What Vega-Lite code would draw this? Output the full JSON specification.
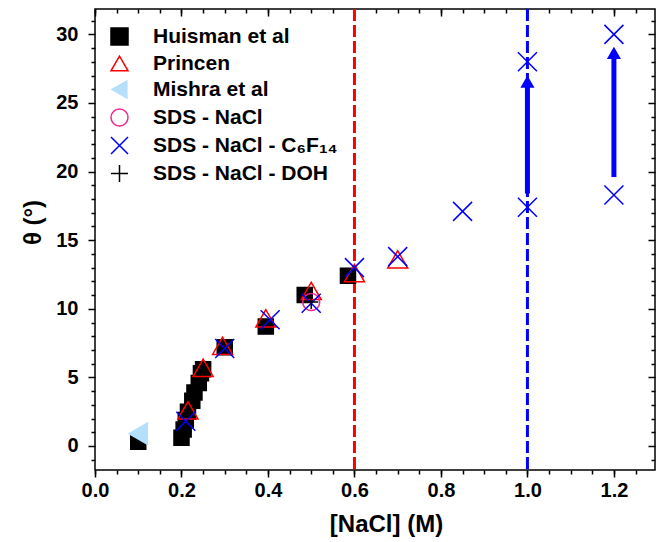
{
  "$schema": "https://vega.github.io/schema/vega-lite/v6.json",
  "width": 560,
  "height": 461,
  "autosize": {"type": "none"},
  "padding": {"left": 95, "top": 9, "right": 2, "bottom": 72},
  "background": "white",
  "config": {
    "view": {"stroke": "black", "strokeWidth": 1.5},
    "font": "Liberation Sans",
    "axis": {
      "domain": false,
      "grid": false,
      "labelFlush": false,
      "tickColor": "black",
      "tickWidth": 1.5,
      "labelColor": "black",
      "labelFont": "Liberation Sans",
      "labelFontWeight": "bold",
      "labelFontSize": 20,
      "titleFont": "Liberation Sans",
      "titleFontSize": 24,
      "titleFontWeight": "bold",
      "titleColor": "black"
    }
  },
  "resolve": {"axis": {"x": "independent", "y": "independent"}},
  "layer": [
    {
      "data": {"values": [
        {"x": 0.6, "c": "#FF0000"},
        {"x": 1.0, "c": "#0000FF"}
      ]},
      "mark": {"type": "rule", "strokeDash": [12, 4], "strokeWidth": 3},
      "encoding": {
        "x": {"field": "x", "type": "quantitative",
              "scale": {"domain": [0, 1.295], "nice": false, "zero": false},
              "axis": {"orient": "bottom", "values": [0,0.05,0.1,0.15,0.2,0.25,0.3,0.35,0.4,0.45,0.5,0.55,0.6,0.65,0.7,0.75,0.8,0.85,0.9,0.95,1.0,1.05,1.1,1.15,1.2,1.25], "labels": false, "tickSize": 4, "title": null}},
        "color": {"field": "c", "type": "nominal", "scale": null}
      }
    },
    {
      "data": {"values": [
        {"s": "Huisman et al", "x": 0.1, "y": 0.3},
        {"s": "Huisman et al", "x": 0.2, "y": 0.6},
        {"s": "Huisman et al", "x": 0.205, "y": 1.2},
        {"s": "Huisman et al", "x": 0.21, "y": 1.9},
        {"s": "Huisman et al", "x": 0.215, "y": 2.5},
        {"s": "Huisman et al", "x": 0.225, "y": 3.3},
        {"s": "Huisman et al", "x": 0.23, "y": 3.9},
        {"s": "Huisman et al", "x": 0.24, "y": 4.6},
        {"s": "Huisman et al", "x": 0.245, "y": 5.3},
        {"s": "Huisman et al", "x": 0.25, "y": 5.6},
        {"s": "Huisman et al", "x": 0.3, "y": 7.2},
        {"s": "Huisman et al", "x": 0.395, "y": 8.7},
        {"s": "Huisman et al", "x": 0.485, "y": 11.0},
        {"s": "Huisman et al", "x": 0.585, "y": 12.4},
        {"s": "Princen", "x": 0.215, "y": 2.6},
        {"s": "Princen", "x": 0.25, "y": 5.7},
        {"s": "Princen", "x": 0.295, "y": 7.3},
        {"s": "Princen", "x": 0.395, "y": 9.3},
        {"s": "Princen", "x": 0.5, "y": 11.3},
        {"s": "Princen", "x": 0.6, "y": 12.6},
        {"s": "Princen", "x": 0.7, "y": 13.6},
        {"s": "Mishra et al", "x": 0.1, "y": 0.9},
        {"s": "SDS - NaCl", "x": 0.5, "y": 10.5},
        {"s": "SDS - NaCl - C₆F₁₄", "x": 0.21, "y": 1.8},
        {"s": "SDS - NaCl - C₆F₁₄", "x": 0.3, "y": 7.1},
        {"s": "SDS - NaCl - C₆F₁₄", "x": 0.405, "y": 9.2},
        {"s": "SDS - NaCl - C₆F₁₄", "x": 0.5, "y": 10.4},
        {"s": "SDS - NaCl - C₆F₁₄", "x": 0.6, "y": 13.0},
        {"s": "SDS - NaCl - C₆F₁₄", "x": 0.7, "y": 13.8},
        {"s": "SDS - NaCl - C₆F₁₄", "x": 0.85, "y": 17.1},
        {"s": "SDS - NaCl - C₆F₁₄", "x": 1.0, "y": 17.4},
        {"s": "SDS - NaCl - C₆F₁₄", "x": 1.0, "y": 28.0},
        {"s": "SDS - NaCl - C₆F₁₄", "x": 1.2, "y": 18.3},
        {"s": "SDS - NaCl - C₆F₁₄", "x": 1.2, "y": 30.0},
        {"s": "SDS - NaCl - DOH", "x": 0.5, "y": 10.5}
      ]},
      "mark": {"type": "point", "strokeWidth": 1.5, "opacity": 1},
      "encoding": {
        "x": {"field": "x", "type": "quantitative",
              "scale": {"domain": [0, 1.295], "nice": false, "zero": false},
              "axis": {"orient": "bottom", "values": [0,0.2,0.4,0.6,0.8,1.0,1.2], "format": ".1f", "tickSize": 7, "labelPadding": 3,
                       "title": "[NaCl] (M)", "titleX": 291, "titleY": 54, "titleBaseline": "middle", "titleAlign": "center"}},
        "y": {"field": "y", "type": "quantitative",
              "scale": {"domain": [-1.75, 31.85], "nice": false, "zero": false},
              "axis": {"orient": "left", "values": [0,5,10,15,20,25,30], "tickSize": 7, "labelPadding": 10,
                       "title": "θ (°)", "titleX": -62, "titleY": 213, "titleBaseline": "middle", "titleAlign": "center", "titleAngle": -90}},
        "shape": {"field": "s", "type": "nominal",
          "scale": {"domain": ["Huisman et al", "Princen", "Mishra et al", "SDS - NaCl", "SDS - NaCl - C₆F₁₄", "SDS - NaCl - DOH"],
                    "range": ["square", "triangle-up", "triangle-left", "circle", "M-1,-1L1,1M-1,1L1,-1", "M-1,0L1,0M0,-1L0,1"]},
          "legend": {"title": null, "orient": "none", "legendX": 14, "legendY": 17, "padding": 0,
                     "labelFont": "Liberation Sans", "labelFontSize": 21, "labelFontWeight": "bold", "labelColor": "black", "labelLimit": 400,
                     "labelOffset": 23, "symbolSize": 290, "symbolStrokeWidth": 1.5, "rowPadding": 3}},
        "fill": {"field": "s", "type": "nominal",
          "scale": {"domain": ["Huisman et al", "Princen", "Mishra et al", "SDS - NaCl", "SDS - NaCl - C₆F₁₄", "SDS - NaCl - DOH"],
                    "range": ["black", "transparent", "#B5E0FC", "transparent", "transparent", "transparent"]}},
        "stroke": {"field": "s", "type": "nominal",
          "scale": {"domain": ["Huisman et al", "Princen", "Mishra et al", "SDS - NaCl", "SDS - NaCl - C₆F₁₄", "SDS - NaCl - DOH"],
                    "range": ["black", "#FF0000", "#B5E0FC", "#EE2A8E", "#0000FF", "black"]}},
        "size": {"field": "s", "type": "nominal", "legend": null,
          "scale": {"type": "ordinal", "domain": ["SDS - NaCl - DOH", "SDS - NaCl - C₆F₁₄", "SDS - NaCl", "Mishra et al", "Princen", "Huisman et al"],
                    "range": [200, 361, 289, 440, 400, 225]}}
      }
    },
    {
      "data": {"values": [
        {"x": 1.0, "y1": 18.4, "y2": 26.4},
        {"x": 1.2, "y1": 19.6, "y2": 28.5}
      ]},
      "mark": {"type": "rule", "strokeWidth": 5, "color": "#0000FF"},
      "encoding": {
        "x": {"field": "x", "type": "quantitative",
              "scale": {"domain": [0, 1.295], "nice": false, "zero": false},
              "axis": {"orient": "top", "values": [0,0.05,0.1,0.15,0.2,0.25,0.3,0.35,0.4,0.45,0.5,0.55,0.6,0.65,0.7,0.75,0.8,0.85,0.9,0.95,1.0,1.05,1.1,1.15,1.2,1.25], "labels": false, "tickSize": -4, "title": null}},
        "y": {"field": "y1", "type": "quantitative",
              "scale": {"domain": [-1.75, 31.85], "nice": false, "zero": false},
              "axis": {"orient": "left", "values": [-1,1,2,3,4,6,7,8,9,11,12,13,14,16,17,18,19,21,22,23,24,26,27,28,29,31], "labels": false, "tickSize": 4, "title": null}},
        "y2": {"field": "y2"}
      }
    },
    {
      "data": {"values": [
        {"x": 1.0, "y": 26.55},
        {"x": 1.2, "y": 28.65}
      ]},
      "mark": {"type": "point", "shape": "triangle-up", "filled": true, "color": "#0000FF", "size": 200, "opacity": 1},
      "encoding": {
        "x": {"field": "x", "type": "quantitative",
              "scale": {"domain": [0, 1.295], "nice": false, "zero": false},
              "axis": {"orient": "top", "values": [0,0.2,0.4,0.6,0.8,1.0,1.2], "labels": false, "tickSize": -7, "title": null}},
        "y": {"field": "y", "type": "quantitative",
              "scale": {"domain": [-1.75, 31.85], "nice": false, "zero": false},
              "axis": {"orient": "right", "values": [0,5,10,15,20,25,30], "labels": false, "tickSize": -7, "title": null}}
      }
    },
    {
      "data": {"values": [
        {"x": 1.0, "y": 0}
      ]},
      "mark": {"type": "point", "opacity": 0},
      "encoding": {
        "x": {"field": "x", "type": "quantitative",
              "scale": {"domain": [0, 1.295], "nice": false, "zero": false},
              "axis": null},
        "y": {"field": "y", "type": "quantitative",
              "scale": {"domain": [-1.75, 31.85], "nice": false, "zero": false},
              "axis": {"orient": "right", "values": [-1,1,2,3,4,6,7,8,9,11,12,13,14,16,17,18,19,21,22,23,24,26,27,28,29,31], "labels": false, "tickSize": -4, "title": null}}
      }
    }
  ]
}
